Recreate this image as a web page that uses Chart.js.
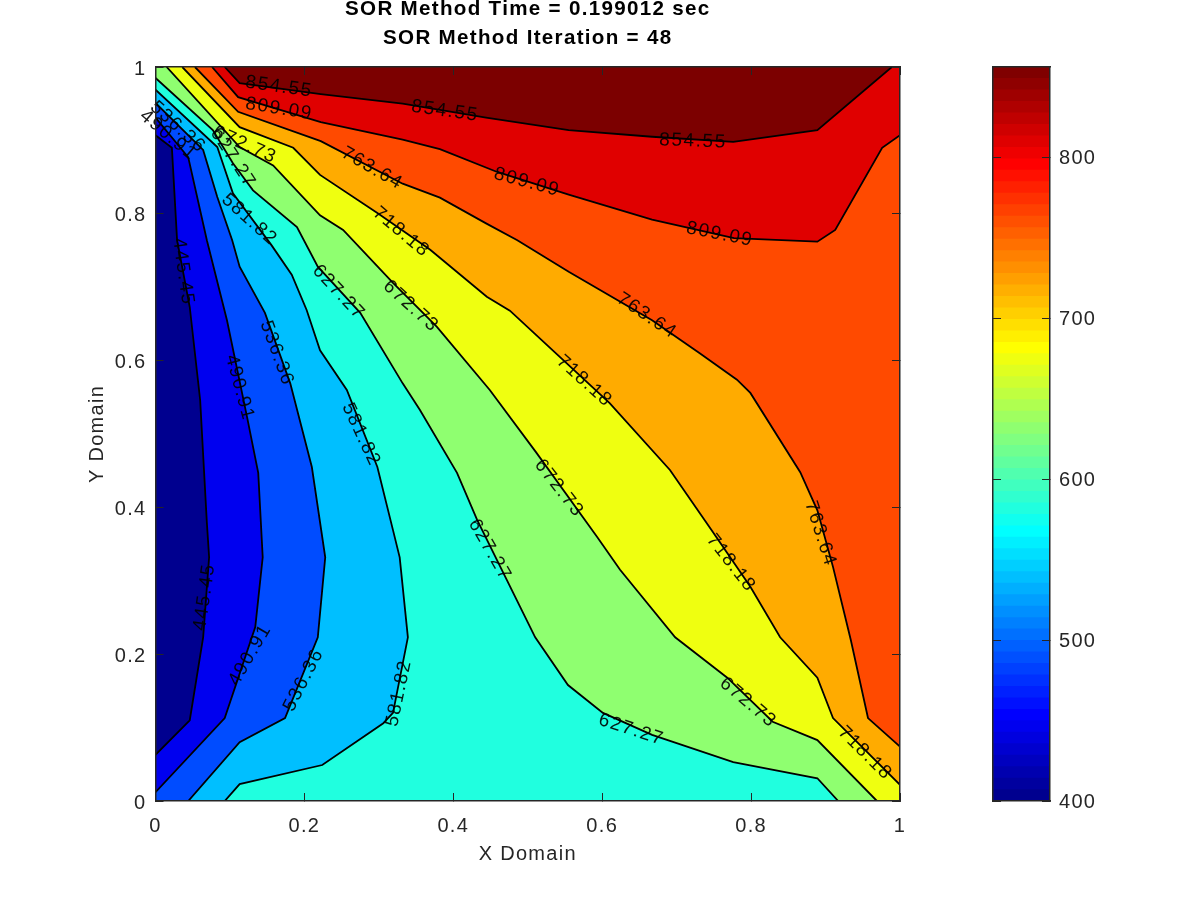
<!DOCTYPE html>
<html>
<head>
<meta charset="utf-8">
<title>SOR Method</title>
<script src="https://cdn.jsdelivr.net/npm/chart.js@4/dist/chart.umd.js"></script>
<style>
  html, body { margin: 0; padding: 0; background: #fff; overflow: hidden; }
  canvas { position: absolute; top: 0; }
  #contour { left: 0; }
  #colorbar { left: 900px; }
</style>
</head>
<body>
<canvas id="contour" width="1200" height="900"></canvas>
<canvas id="colorbar" width="300" height="900"></canvas>
<script>
// contour levels, low to high
const levels = [445.45, 490.91, 536.36, 581.82, 627.27, 672.73, 718.18, 763.64, 809.09, 854.55];

// contour lines
const x445 = [0, .022, .029, .046, .060, .069, .072, .064, .046, 0];
const y445 = [.907, .890, .764, .673, .546, .379, .332, .223, .110, .063];
const x490 = [0, .044, .069, .096, .123, .138, .144, .134, .093, 0];
const y490 = [.931, .877, .764, .655, .523, .447, .332, .237, .113, .012];
const x536 = [0, .064, .083, .103, .113, .147, .181, .210, .228, .218, .174, .113, .044];
const y536 = [.951, .887, .823, .764, .728, .665, .569, .455, .332, .223, .113, .080, 0];
const x581 = [0, .083, .104, .156, .183, .203, .221, .257, .298, .319, .328, .339, .319, .306, .224, .113, .093];
const y581 = [.969, .891, .828, .757, .717, .669, .614, .560, .455, .369, .332, .223, .120, .106, .049, .023, 0];
const x627 = [0, .077, .104, .131, .190, .218, .275, .332, .355, .405, .432, .472, .510, .554, .601, .667, .776, .889, .917];
const y627 = [.985, .914, .869, .832, .782, .728, .665, .569, .533, .447, .383, .301, .223, .158, .120, .090, .053, .031, 0];
const x672 = [.015, .113, .158, .221, .252, .319, .378, .449, .512, .593, .624, .698, .768, .829, .889, .969];
const y672 = [1, .891, .866, .798, .778, .706, .646, .560, .474, .360, .315, .223, .168, .108, .083, 0];
const x718 = [.036, .113, .185, .221, .298, .369, .445, .476, .543, .610, .691, .747, .799, .839, .889, .910, 1];
const y718 = [1, .918, .890, .853, .801, .751, .687, .668, .605, .542, .451, .369, .292, .223, .168, .113, .022];
const x763 = [.053, .111, .222, .332, .382, .444, .486, .555, .667, .731, .781, .799, .866, .889, .910, .934, .957, 1];
const y763 = [1, .939, .899, .841, .822, .787, .764, .721, .655, .610, .574, .556, .448, .396, .319, .219, .113, .074];
const x809 = [.076, .111, .222, .332, .382, .459, .555, .667, .777, .889, .913, .976, 1];
const y809 = [1, .959, .925, .901, .888, .857, .826, .792, .767, .762, .778, .890, .907];
const x854 = [.093, .113, .222, .332, .444, .555, .667, .776, .889, .989];
const y854 = [1, .978, .963, .950, .931, .914, .905, .898, .914, 1];

const lineX = [x445, x490, x536, x581, x627, x672, x718, x763, x809, x854];
const lineY = [y445, y490, y536, y581, y627, y672, y718, y763, y809, y854];

// plot corners that close each filled region on its high side
const cornerX = [[0, 1, 1, 0], [0, 1, 1, 0], [1, 1, 0], [1, 1, 0], [1, 1, 0], [1, 1], [1], [1], [1], []];
const cornerY = [[0, 0, 1, 1], [0, 0, 1, 1], [0, 1, 1], [0, 1, 1], [0, 1, 1], [0, 1], [1], [1], [1], []];

// colour under the lowest level, then colour above each level
const baseColor = "#00008f";
const bandColors = ["#0000ef", "#004cff", "#00bfff", "#20ffdf", "#8fff70", "#efff10", "#ffab00", "#ff4a00", "#e00000", "#7c0000"];

// clabel text along the lines
const labelText = ["854.55", "854.55", "854.55", "809.09", "809.09", "809.09", "763.64", "763.64", "763.64",
  "718.18", "718.18", "718.18", "718.18", "672.73", "672.73", "672.73", "672.73",
  "627.27", "627.27", "627.27", "627.27", "581.82", "581.82", "581.82",
  "536.36", "536.36", "536.36", "490.91", "490.91", "490.91", "445.45", "445.45"];
const labelX = [.166, .389, .722, .166, .499, .758, .291, .660, .893,
  .330, .576, .773, .953, .120, .343, .542, .796,
  .104, .246, .449, .639, .126, .276, .327,
  .030, .163, .199, .017, .113, .127, .037, .066];
const labelY = [.973, .940, .899, .943, .843, .772, .862, .661, .364,
  .775, .572, .324, .065, .894, .674, .426, .134,
  .876, .693, .342, .097, .792, .499, .147,
  .918, .610, .165, .907, .563, .199, .721, .278];
const labelAngle = [8, 8, 2, 9, 15, 11, 30, 34, 72,
  40, 42, 52, 45, 24, 42, 52, 40,
  57, 47, 60, 18, 42, 65, -78,
  42, 70, -63, 40, 75, -60, 82, -82];

const axisTicks = [0, 0.2, 0.4, 0.6, 0.8, 1];

// colorbar
const barTicks = [400, 500, 600, 700, 800];
const barEdges = [400, 407.1, 414.3, 421.4, 428.5, 435.6, 442.8, 449.9, 457, 464.1, 471.3, 478.4, 485.5, 492.6, 499.8, 506.9,
  514, 521.1, 528.3, 535.4, 542.5, 549.6, 556.8, 563.9, 571, 578.1, 585.3, 592.4, 599.5, 606.6, 613.8, 620.9,
  628, 635.1, 642.3, 649.4, 656.5, 663.6, 670.8, 677.9, 685, 692.1, 699.3, 706.4, 713.5, 720.6, 727.8, 734.9,
  742, 749.1, 756.3, 763.4, 770.5, 777.6, 784.8, 791.9, 799, 806.1, 813.3, 820.4, 827.5, 834.6, 841.8, 848.9, 856];
const jet = ["#00008f", "#00009f", "#0000af", "#0000bf", "#0000cf", "#0000df", "#0000ef", "#0000ff",
  "#0010ff", "#0020ff", "#0030ff", "#0040ff", "#0050ff", "#0060ff", "#0070ff", "#0080ff",
  "#008fff", "#009fff", "#00afff", "#00bfff", "#00cfff", "#00dfff", "#00efff", "#00ffff",
  "#10ffef", "#20ffdf", "#30ffcf", "#40ffbf", "#50ffaf", "#60ff9f", "#70ff8f", "#80ff80",
  "#8fff70", "#9fff60", "#afff50", "#bfff40", "#cfff30", "#dfff20", "#efff10", "#ffff00",
  "#ffef00", "#ffdf00", "#ffcf00", "#ffbf00", "#ffaf00", "#ff9f00", "#ff8f00", "#ff8000",
  "#ff7000", "#ff6000", "#ff5000", "#ff4000", "#ff3000", "#ff2000", "#ff1000", "#ff0000",
  "#ef0000", "#df0000", "#cf0000", "#bf0000", "#af0000", "#9f0000", "#8f0000", "#800000"];

const FONT = "'Liberation Sans', Arial, sans-serif";
const AXIS_COLOR = "#262626";
const TEXT_COLOR = "#262626";

function toPoints(xs, ys) {
  return xs.map((x, i) => ({ x: x, y: ys[i] }));
}

// low bands get a high order so they are painted first
const fillSets = [{
  data: toPoints([0, 1, 1, 0], [0, 0, 1, 1]),
  showLine: true, fill: "shape", backgroundColor: baseColor, borderWidth: 0, pointRadius: 0, order: 30,
}];
levels.forEach((level, i) => {
  fillSets.push({
    label: "fill " + level,
    data: toPoints(lineX[i].concat(cornerX[i]), lineY[i].concat(cornerY[i])),
    showLine: true, fill: "shape", backgroundColor: bandColors[i], borderWidth: 0, pointRadius: 0, order: 29 - i,
  });
});

const lineSets = levels.map((level, i) => ({
  label: "" + level,
  data: toPoints(lineX[i], lineY[i]),
  showLine: true, fill: false, borderColor: "#000", borderWidth: 1.8, pointRadius: 0, order: 1,
}));

const clabels = {
  id: "clabels",
  afterDatasetsDraw(chart) {
    const ctx = chart.ctx;
    labelText.forEach((text, i) => {
      ctx.save();
      ctx.translate(chart.scales.x.getPixelForValue(labelX[i]), chart.scales.y.getPixelForValue(labelY[i]));
      ctx.rotate(labelAngle[i] * Math.PI / 180);
      ctx.font = "19px " + FONT;
      ctx.letterSpacing = "1.6px";
      ctx.fillStyle = "rgba(0,0,0,0.9)";
      ctx.textAlign = "center";
      ctx.textBaseline = "middle";
      ctx.fillText(text, 0, 0);
      ctx.restore();
    });
  },
};

// all the axis text in the picture is spaced a bit wider than the font
const wideText = {
  id: "wideText",
  beforeDraw(chart) { chart.ctx.letterSpacing = "1.3px"; },
};

function fixedTicks(list) {
  return (scale) => { scale.ticks = list.map((v) => ({ value: v })); };
}

function sideAxis(position, size, list) {
  return {
    type: "linear", position: position, min: 0, max: 1,
    afterBuildTicks: fixedTicks(list),
    afterFit(s) { if (s.isHorizontal()) s.height = size; else s.width = size; },
    grid: { drawOnChartArea: false, tickLength: -8, tickColor: AXIS_COLOR, tickWidth: 1, z: 1 },
    border: { color: AXIS_COLOR, width: 1.5, z: 2 },
    ticks: { display: false },
  };
}

new Chart(document.getElementById("contour").getContext("2d"), {
  type: "scatter",
  data: { datasets: fillSets.concat(lineSets) },
  plugins: [clabels, wideText],
  options: {
    responsive: false,
    animation: false,
    layout: { padding: { right: 300 } },
    plugins: {
      legend: { display: false },
      tooltip: { enabled: false },
      title: {
        display: true,
        fullSize: false,
        text: ["SOR Method Time = 0.199012 sec", "SOR Method Iteration = 48"],
        color: "#000",
        font: { family: FONT, size: 20.6, weight: "bold", lineHeight: 1.408 },
        padding: { top: -5.5, bottom: 14.5 },
      },
    },
    scales: {
      x: {
        type: "linear", position: "bottom", min: 0, max: 1,
        afterBuildTicks: fixedTicks(axisTicks),
        afterFit(s) { s.height = 99; },
        grid: { drawOnChartArea: false, tickLength: -8, tickColor: AXIS_COLOR, tickWidth: 1, z: 1 },
        border: { color: AXIS_COLOR, width: 1.5, z: 2 },
        ticks: { color: TEXT_COLOR, font: { family: FONT, size: 20 }, padding: 21, maxRotation: 0, callback: (v) => String(v) },
        title: { display: true, text: "X Domain", color: TEXT_COLOR, font: { family: FONT, size: 20, lineHeight: 1.2 }, padding: { bottom: 34 } },
      },
      y: {
        type: "linear", position: "left", min: 0, max: 1,
        afterBuildTicks: fixedTicks(axisTicks),
        afterFit(s) { s.width = 155.5; },
        grid: { drawOnChartArea: false, tickLength: -8, tickColor: AXIS_COLOR, tickWidth: 1, z: 1 },
        border: { color: AXIS_COLOR, width: 1.5, z: 2 },
        ticks: { color: TEXT_COLOR, font: { family: FONT, size: 20 }, padding: 17, labelOffset: 2, callback: (v) => String(v) },
        title: { display: true, text: "Y Domain", color: TEXT_COLOR, font: { family: FONT, size: 20, lineHeight: 1.2 }, padding: { top: 85 } },
      },
      x2: sideAxis("top", 0, axisTicks),
      y2: sideAxis("right", 0, axisTicks),
    },
  },
});

// colorbar: one category, each bar runs from the bottom up to its top edge
const barSets = jet.map((color, i) => ({
  data: [[barEdges[0], barEdges[i + 1]]],
  backgroundColor: color,
  borderWidth: 0,
  grouped: false,
  barPercentage: 1,
  categoryPercentage: 1,
}));

new Chart(document.getElementById("colorbar").getContext("2d"), {
  type: "bar",
  data: { labels: [""], datasets: barSets },
  plugins: [wideText],
  options: {
    responsive: false,
    animation: false,
    layout: { padding: { left: 93, top: 67 } },
    plugins: { legend: { display: false }, tooltip: { enabled: false } },
    scales: {
      x: {
        position: "bottom",
        afterFit(s) { s.height = 99; },
        grid: { display: true, drawOnChartArea: false, drawTicks: false, z: 1 },
        border: { color: AXIS_COLOR, width: 1.5, z: 2 },
        ticks: { display: false },
      },
      xTop: {
        position: "top",
        axis: "x",
        labels: [""],
        type: "category",
        afterFit(s) { s.height = 0; },
        grid: { display: true, drawOnChartArea: false, drawTicks: false, z: 1 },
        border: { color: AXIS_COLOR, width: 1.5, z: 2 },
        ticks: { display: false },
      },
      y: {
        type: "linear", position: "left", min: barEdges[0], max: barEdges[barEdges.length - 1],
        afterBuildTicks: fixedTicks(barTicks),
        afterFit(s) { s.width = 0; },
        grid: { drawOnChartArea: false, tickLength: -8, tickColor: AXIS_COLOR, tickWidth: 1, z: 1 },
        border: { color: AXIS_COLOR, width: 1.5, z: 2 },
        ticks: { display: false },
      },
      yRight: {
        type: "linear", position: "right", min: barEdges[0], max: barEdges[barEdges.length - 1],
        afterBuildTicks: fixedTicks(barTicks),
        afterFit(s) { s.width = 150; },
        grid: { drawOnChartArea: false, tickLength: -8, tickColor: AXIS_COLOR, tickWidth: 1, z: 1 },
        border: { color: AXIS_COLOR, width: 1.5, z: 2 },
        ticks: { color: TEXT_COLOR, font: { family: FONT, size: 20 }, padding: 17, labelOffset: 1, callback: (v) => String(v) },
      },
    },
  },
});
</script>
</body>
</html>
